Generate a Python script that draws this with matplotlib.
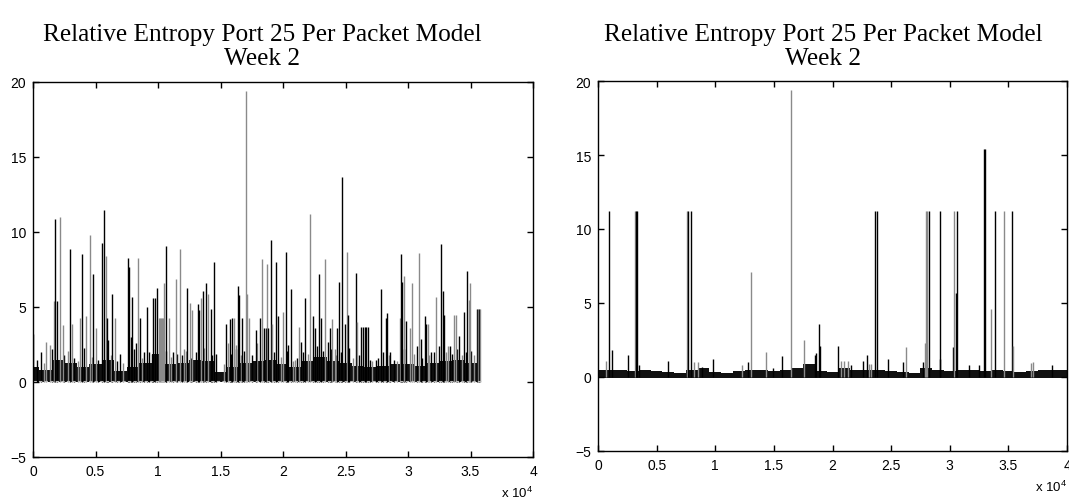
import matplotlib
matplotlib.use('Agg')
import matplotlib.pyplot as plt

# ---------------- data (x in units of 1e4 packets) ----------------
title_text = "Relative Entropy Port 25 Per Packet Model\nWeek 2"
x_ticks = [0, 0.5, 1, 1.5, 2, 2.5, 3, 3.5, 4]
x_tick_labels = ["0", "0.5", "1", "1.5", "2", "2.5", "3", "3.5", "4"]
y_ticks = [-5, 0, 5, 10, 15, 20]

# left panel: major spikes (position, height, shade k=black g=grey)
left_spike_x = [0.000, 0.067, 0.107, 0.133, 0.168, 0.179, 0.192, 0.219, 0.240, 0.293,
                0.315, 0.373, 0.395, 0.427, 0.453, 0.480, 0.501, 0.552, 0.565, 0.581,
                0.592, 0.635, 0.656, 0.699, 0.757, 0.768, 0.795, 0.821, 0.840, 0.853,
                0.885, 0.912, 0.960, 0.973, 0.992, 1.008, 1.016, 1.024, 1.032, 1.040,
                1.045, 1.067, 1.085, 1.120, 1.141, 1.179, 1.208, 1.232, 1.253, 1.272,
                1.317, 1.328, 1.347, 1.360, 1.387, 1.400, 1.421, 1.448, 1.467, 1.547,
                1.560, 1.573, 1.592, 1.605, 1.627, 1.640, 1.648, 1.672, 1.701, 1.712,
                1.728, 1.781, 1.819, 1.835, 1.845, 1.872, 1.880, 1.907, 1.915, 1.947,
                1.960, 2.000, 2.021, 2.040, 2.061, 2.093, 2.125, 2.147, 2.173, 2.219,
                2.240, 2.253, 2.288, 2.307, 2.333, 2.360, 2.373, 2.395, 2.413, 2.435,
                2.448, 2.472, 2.493, 2.512, 2.520, 2.581, 2.592, 2.627, 2.640, 2.653,
                2.667, 2.680, 2.693, 2.747, 2.787, 2.821, 2.832, 2.859, 2.933, 2.947,
                2.955, 2.971, 2.987, 3.013, 3.032, 3.085, 3.107, 3.133, 3.141, 3.160,
                3.187, 3.227, 3.267, 3.280, 3.288, 3.320, 3.333, 3.365, 3.387, 3.408,
                3.445, 3.472, 3.485, 3.499, 3.552, 3.560, 3.568, 3.575]
left_spike_h = [3.2, 2.0, 2.7, 2.5, 5.4, 10.9, 5.4, 11.0, 3.8, 8.85,
                3.9, 4.3, 8.55, 4.4, 9.8, 7.2, 3.6, 9.3, 11.5, 8.4,
                4.3, 5.9, 4.3, 1.9, 8.3, 7.7, 5.7, 2.6, 8.3, 4.3,
                2.0, 5.0, 5.6, 5.6, 6.3, 4.3, 4.3, 4.3, 4.3, 4.3,
                6.6, 9.1, 4.3, 2.0, 6.9, 8.9, 2.2, 6.3, 5.3, 4.8,
                5.2, 4.8, 5.6, 6.1, 6.6, 5.9, 4.9, 8.0, 1.9, 3.9,
                2.6, 4.2, 4.3, 4.3, 2.5, 6.4, 5.8, 4.3, 19.4, 5.9,
                4.3, 3.5, 4.3, 8.2, 3.6, 7.9, 3.6, 9.5, 3.9, 8.0,
                4.4, 4.7, 8.7, 2.5, 6.2, 1.5, 3.7, 2.7, 5.6, 11.2,
                4.4, 3.6, 7.2, 4.3, 8.2, 2.7, 3.6, 4.2, 2.2, 3.6,
                6.7, 13.65, 3.9, 8.7, 4.5, 7.3, 4.0, 3.7, 3.7, 3.7,
                3.7, 3.7, 1.5, 1.5, 6.2, 4.3, 4.6, 2.0, 4.3, 8.55,
                6.7, 7.1, 4.1, 3.6, 6.6, 8.6, 2.9, 4.4, 3.9, 3.9,
                2.0, 5.7, 9.2, 6.1, 4.5, 2.4, 2.4, 4.5, 4.5, 3.1,
                4.7, 7.4, 5.5, 6.6, 4.85, 4.85, 4.85, 4.85]
left_spike_c = ("kkggg" "kkggk" "gg" "kgg" "kgkkg" "kk" "gkkkk"
                "kgkkkkkk" "ggggg" "gkgkg" "ggkgg" "kkgkkgkkk" "k"
                "gkkgg" "kkkgggk" "kgkgkkgk" "kgkkkggk" "k"
                "gkkkkgkkgg" "kkkkgkkgkk" "kkkkkkk" "kkgkkgkg" "ggkkkgkgkk"
                "kgkggkkkgg" "kgkgkkkk")

# left panel: small spikes inside the dense base
left_minor_x = [0.03, 0.09, 0.15, 0.25, 0.28, 0.33, 0.36, 0.41, 0.47, 0.52,
                0.60, 0.62, 0.67, 0.72, 0.78, 0.81, 0.87, 0.93, 0.95, 1.06,
                1.10, 1.15, 1.19, 1.22, 1.26, 1.30, 1.37, 1.43, 1.53, 1.58,
                1.62, 1.66, 1.69, 1.75, 1.79, 1.86, 1.93, 1.98, 2.03, 2.08,
                2.11, 2.16, 2.20, 2.27, 2.32, 2.38, 2.42, 2.46, 2.53, 2.56,
                2.61, 2.71, 2.76, 2.80, 2.85, 2.89, 2.91, 2.97, 3.05, 3.07,
                3.11, 3.17, 3.21, 3.25, 3.30, 3.35, 3.39, 3.43, 3.46, 3.50, 3.53]
left_minor_h = [1.5, 1.3, 2.2, 1.8, 2.1, 1.6, 1.4, 2.3, 1.7, 1.5,
                2.8, 1.8, 1.4, 1.3, 3.0, 2.2, 1.6, 2.0, 1.9, 2.1,
                1.7, 1.9, 1.8, 2.1, 1.6, 2.0, 2.3, 1.8, 1.2, 1.9,
                2.2, 1.8, 2.1, 1.8, 2.6, 3.6, 2.0, 1.7, 2.1, 1.4,
                1.6, 2.0, 1.9, 2.4, 2.1, 2.2, 1.8, 2.0, 2.3, 1.6,
                1.8, 1.4, 1.6, 2.0, 1.8, 1.5, 1.4, 2.2, 1.9, 2.4,
                1.6, 1.8, 2.0, 2.4, 2.0, 1.9, 2.2, 1.8, 2.0, 2.1, 1.8]
left_minor_c = ("kgkkgkgkgk" "kgkgkkgkkk" "gkkgkkgkgk" "kgkkgkkgkg"
                "kkgkkkgkkg" "kgkkgkgkgk" "kgkkgkkgkk" "g")

# left panel: upper edge of the dense dark base band
left_band_x = [0.0, 0.1, 0.2, 0.3, 0.4, 0.5, 0.6, 0.7, 0.8, 0.9,
               1.0, 1.1, 1.2, 1.3, 1.4, 1.5, 1.6, 1.7, 1.8, 1.9,
               2.0, 2.1, 2.2, 2.3, 2.4, 2.5, 2.6, 2.7, 2.8, 2.9,
               3.0, 3.1, 3.2, 3.3, 3.4, 3.5, 3.58]
left_band_top = [1.0, 0.8, 1.5, 1.3, 1.0, 1.2, 1.5, 0.75, 1.0, 1.3,
                 1.9, 1.2, 1.3, 1.5, 1.4, 0.7, 1.0, 1.3, 1.4, 1.5,
                 1.2, 1.0, 1.4, 1.7, 1.4, 1.3, 1.1, 1.0, 1.1, 1.2,
                 1.2, 1.1, 1.3, 1.4, 1.5, 1.3, 1.3]

# right panel: spikes
right_spike_x = [0.070, 0.091, 0.120, 0.257, 0.314, 0.323, 0.334, 0.350, 0.594, 0.757,
                 0.771, 0.791, 0.820, 0.850, 0.885, 0.980, 1.230, 1.280, 1.306, 1.437,
                 1.490, 1.566, 1.649, 1.760, 1.849, 1.863, 1.886, 1.890, 2.043, 2.070,
                 2.100, 2.130, 2.160, 2.257, 2.294, 2.310, 2.330, 2.360, 2.377, 2.477,
                 2.600, 2.629, 2.770, 2.786, 2.800, 2.809, 2.823, 2.914, 2.920, 3.030,
                 3.034, 3.051, 3.063, 3.160, 3.250, 3.292, 3.297, 3.351, 3.386, 3.463,
                 3.529, 3.543, 3.690, 3.710, 3.870]
right_spike_h = [1.1, 11.2, 1.85, 1.5, 11.2, 11.2, 11.2, 0.8, 1.1, 11.2,
                 11.2, 11.2, 1.0, 1.0, 0.7, 1.2, 0.8, 1.0, 7.1, 1.7,
                 0.6, 1.4, 19.4, 2.5, 1.5, 1.6, 3.6, 2.1, 2.1, 1.1,
                 1.1, 1.1, 0.8, 1.1, 1.5, 0.9, 0.9, 11.2, 11.2, 1.2,
                 1.0, 2.0, 1.0, 2.3, 11.2, 11.2, 11.2, 11.2, 1.25, 2.0,
                 11.2, 5.65, 11.2, 0.8, 0.8, 15.4, 15.4, 4.6, 11.2, 11.2,
                 11.2, 2.1, 0.95, 1.0, 0.8]
right_spike_c = ("gkkkgkkkkg" "kkggkkgkgg" "kkggkkkkkg" "ggkkkggkkk"
                 "kgkgggkkkk" "gkkkkkkgkg" "kgggk")

right_band_x = [0.0, 0.1, 0.2, 0.3, 0.4, 0.5, 0.6, 0.7, 0.8, 0.9,
                1.0, 1.1, 1.2, 1.3, 1.4, 1.5, 1.6, 1.7, 1.8, 1.9,
                2.0, 2.1, 2.2, 2.3, 2.4, 2.5, 2.6, 2.7, 2.8, 2.9,
                3.0, 3.1, 3.2, 3.3, 3.4, 3.5, 3.6, 3.7, 3.8, 3.9, 4.0]
right_band_top = [0.45, 0.5, 0.5, 0.4, 0.45, 0.4, 0.35, 0.3, 0.5, 0.6,
                  0.35, 0.3, 0.4, 0.5, 0.5, 0.4, 0.45, 0.6, 0.9, 0.4,
                  0.35, 0.6, 0.5, 0.45, 0.5, 0.4, 0.35, 0.3, 0.6, 0.45,
                  0.4, 0.5, 0.45, 0.4, 0.5, 0.4, 0.35, 0.4, 0.5, 0.5, 0.45]

SHADE = {"k": "#000000", "g": "#8a8a8a"}

# ---------------- figure ----------------
fig = plt.figure(figsize=(10.69, 5.02), dpi=100)
axL = fig.add_axes([33 / 1069, 1 - 458 / 502, 500 / 1069, 375 / 502])
axR = fig.add_axes([598 / 1069, 1 - 452 / 502, 469 / 1069, 370 / 502])


def style(ax, title_x):
    ax.set_xlim(0, 4)
    ax.set_ylim(-5, 20)
    ax.set_xticks(x_ticks)
    ax.set_xticklabels(x_tick_labels)
    ax.set_yticks(y_ticks)
    ax.tick_params(direction="in", top=True, right=True, length=4, width=1,
                   labelsize=10, pad=5)
    for lab in ax.get_xticklabels() + ax.get_yticklabels():
        lab.set_family("Liberation Sans")
    for s in ax.spines.values():
        s.set_linewidth(1.0)
    fig.text(title_x, 1 - 24 / 502, title_text, ha="center", va="top",
             family="Liberation Serif", fontsize=18.2, linespacing=1.12)
    ax.text(1.0, -0.075, r"x $\mathregular{10^4}$", transform=ax.transAxes,
            ha="right", va="top", fontsize=9.5, family="Liberation Sans")


def draw(ax, band_x, band_top, bottom, sx, sh, sc, lw=1.0):
    ax.fill_between(band_x, bottom, band_top, step="mid", color="#111111", lw=0)
    ax.vlines(sx, 0, sh, colors=[SHADE[c] for c in sc], lw=lw)


draw(axL, left_band_x, left_band_top, 0.0, left_minor_x, left_minor_h, left_minor_c)
draw(axL, left_band_x, left_band_top, 0.0, left_spike_x, left_spike_h, left_spike_c)
axL.plot([0, 3.58], [0.05, 0.05], color="#bbbbbb", lw=0.8, ls=(0, (3, 2)))
draw(axR, right_band_x, right_band_top, -0.05, right_spike_x, right_spike_h, right_spike_c)

style(axL, 262 / 1069)
style(axR, 823 / 1069)

fig.savefig("out.png", dpi=100)
